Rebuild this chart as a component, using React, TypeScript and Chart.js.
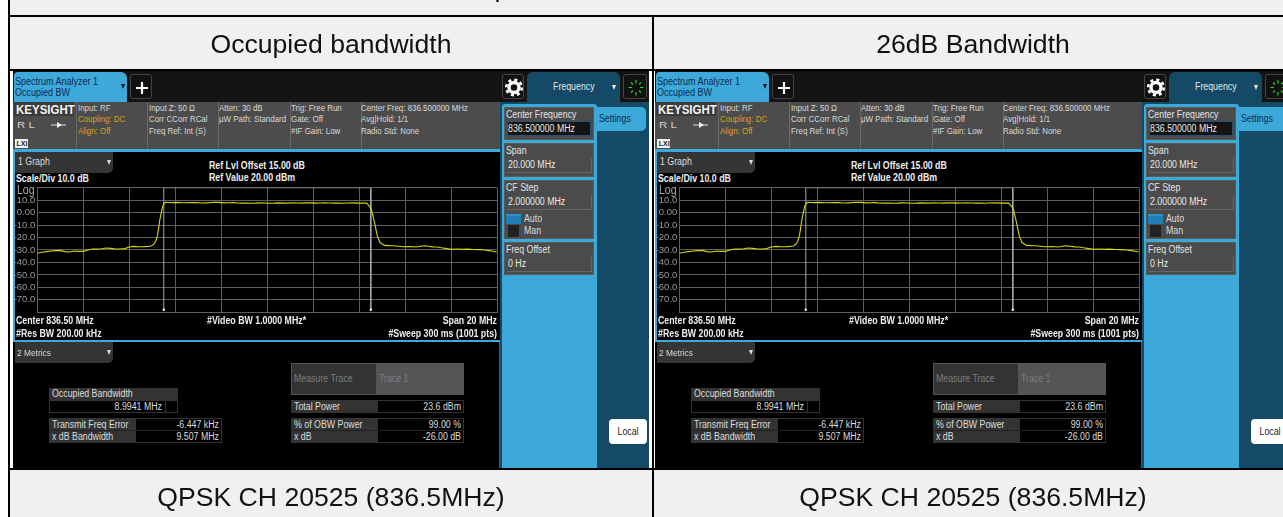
import React, { useEffect, useRef } from "react";
import { Chart, registerables } from "chart.js";
Chart.register(...registerables);

const traceFreq = [826.5,826.7,826.9,827.1,827.3,827.5,827.7,827.9,828.1,828.3,828.5,828.7,828.9,829.1,829.3,829.5,829.7,829.9,830.1,830.3,830.5,830.7,830.9,831.1,831.3,831.45,831.57,831.65,831.72,831.78,831.83,831.89,831.95,832.02,832.09,832.2,832.4,832.6,832.8,833,833.2,833.4,833.6,833.8,834,834.2,834.4,834.6,834.8,835,835.2,835.4,835.6,835.8,836,836.2,836.4,836.6,836.8,837,837.2,837.4,837.6,837.8,838,838.2,838.4,838.6,838.8,839,839.2,839.4,839.6,839.8,840,840.2,840.4,840.6,840.82,840.93,841.03,841.1,841.18,841.28,841.4,841.6,841.8,841.97,842.2,842.4,842.7,842.98,843.15,843.34,843.5,843.7,843.9,844.07,844.3,844.5,844.75,845,845.2,845.45,845.72,845.95,846.15,846.3,846.47];
const traceLevel = [-32.6,-31.8,-31.3,-30.8,-30.5,-30.3,-31.3,-31.6,-30.8,-31.1,-31.1,-30,-29.2,-29.3,-29,-28.4,-28.7,-29.2,-29.2,-28.9,-27.6,-27.1,-27.4,-27.4,-27.1,-26.8,-25.3,-23,-18.7,-12,-5.5,0,5,7.5,8.2,8.1,8,8.2,7.9,7.9,8,8.1,7.7,7.8,8,8.3,8.2,7.8,7.9,8,7.7,7.6,7.7,7.5,7.6,7.8,7.7,7.5,7.6,7.8,7.6,7.6,7.9,7.7,7.6,7.8,7.8,7.6,7.7,7.9,7.7,7.6,7.7,7.5,7.7,7.8,7.6,7.7,7.6,5.5,2.4,-3,-9.5,-18.7,-24,-26.3,-26.5,-26.6,-27,-27.4,-27.2,-27.6,-27,-26.6,-27,-27.5,-27.6,-28.2,-28.9,-29.5,-29.2,-29.5,-29.3,-29.6,-29.7,-30,-30.5,-31,-31.6];
const bracketFreq = [832.0,832.0,841.0,841.0];
const bracketLevel = [-78,20,20,-78];
const gridFreq = [826.5,828.5,830.5,832.5,834.5,836.5,838.5,840.5,842.5,844.5,846.5];
const levelLabels: Record<string,string> = {"10":"10.0","0":"0.00","-10":"-10.0","-20":"-20.0","-30":"-30.0","-40":"-40.0","-50":"-50.0","-60":"-60.0","-70":"-70.0"};

const columnTitles = ["Occupied bandwidth","26dB Bandwidth"];
const rowLabel = "QPSK CH 20525 (836.5MHz)";
const infoRows = [
  [["Input: RF","#d8d8d8"],["Coupling: DC","#d9a21c"],["Align: Off","#d9a21c"]],
  [["Input Z: 50 Ω","#d8d8d8"],["Corr CCorr RCal","#d8d8d8"],["Freq Ref: Int (S)","#d8d8d8"]],
  [["Atten: 30 dB","#d8d8d8"],["µW Path: Standard","#d8d8d8"]],
  [["Trig: Free Run","#d8d8d8"],["Gate: Off","#d8d8d8"],["#IF Gain: Low","#d8d8d8"]],
  [["Center Freq: 836.500000 MHz","#d8d8d8"],["Avg|Hold: 1/1","#d8d8d8"],["Radio Std: None","#d8d8d8"]],
];

const SANS = '"Liberation Sans", Arial, sans-serif';
const CYAN = "#3ca9d9";
const NAVY = "#154a66";
const GRID = "#5f5f5f";

type BoxProps = { x:number; y:number; w:number; h:number; bg?:string; style?:React.CSSProperties; children?:React.ReactNode };
const Box = ({x,y,w,h,bg,style,children}:BoxProps) => (
  <div style={{position:"absolute",left:x,top:y,width:w,height:h,background:bg,...style}}>{children}</div>
);
type TProps = { x:number; y:number; s?:number; c?:string; b?:boolean; right?:boolean; center?:boolean; sx?:number; children:React.ReactNode };
const T = ({x,y,s=10,c="#dcdcdc",b,right,center,sx=0.88,children}:TProps) => (
  <div style={{position:"absolute",left:x,top:y-10,height:20,lineHeight:"20px",fontSize:s,color:c,fontWeight:b?700:400,fontFamily:SANS,whiteSpace:"nowrap",
    transformOrigin:right?"100% 50%":center?"50% 50%":"0 50%",
    transform:`${right?"translateX(-100%) ":center?"translateX(-50%) ":""}scaleX(${sx})`}}>{children}</div>
);

function Plot({x,y,w,h}:{x:number;y:number;w:number;h:number}) {
  const ref = useRef<HTMLCanvasElement>(null);
  useEffect(() => {
    const chart = new Chart(ref.current!, {
      type: "line",
      data: { datasets: [
        { data: traceFreq.map((f,i)=>({x:f,y:traceLevel[i]})), borderColor:"#d6d60a", borderWidth:1.1, pointRadius:0, tension:0, order:1 },
        { data: bracketFreq.map((f,i)=>({x:f,y:bracketLevel[i]})), borderColor:"#a8a8a8", borderWidth:1, pointRadius:[1.2,0,0,1.2], pointBackgroundColor:"#ffffff", pointBorderWidth:0, tension:0, order:2 },
      ]},
      options: {
        animation:false, responsive:false, maintainAspectRatio:false,
        layout:{autoPadding:false,padding:{left:0,right:0.7,top:7.3,bottom:5.7}},
        plugins:{legend:{display:false},tooltip:{enabled:false}},
        scales:{
          x:{type:"linear",min:826.5,max:846.5,afterBuildTicks:(s:any)=>{s.ticks=gridFreq.map((v)=>({value:v}));},ticks:{display:false,autoSkip:false},grid:{color:GRID,lineWidth:1,drawTicks:false},border:{color:GRID}},
          y:{min:-80,max:20,afterFit:(s:any)=>{s.width=22.3;},
            ticks:{stepSize:10,autoSkip:false,padding:2,color:"#9a9a9a",font:{family:SANS,size:9.5},callback:(v:any)=>levelLabels[String(v)]??""},
            grid:{color:GRID,lineWidth:1,drawTicks:false},border:{color:GRID}},
        },
      },
    });
    return () => chart.destroy();
  }, []);
  return <canvas ref={ref} width={w} height={h} style={{position:"absolute",left:x,top:y,width:w,height:h}} />;
}

const Gear = () => (
  <svg width="22" height="25" style={{position:"absolute",left:0,top:0}}>
    <circle cx="11" cy="12.5" r="5" fill="none" stroke="#fff" strokeWidth="3.4"/>
    <circle cx="11" cy="12.5" r="7.8" fill="none" stroke="#fff" strokeWidth="2.6" strokeDasharray="3.1 3.03"/>
  </svg>
);
const Plus = () => (
  <svg width="22" height="25" style={{position:"absolute",left:0,top:0}}>
    <path d="M11 7V19M5 13H17" stroke="#fff" strokeWidth="2.2"/>
  </svg>
);
const Spinner = () => (
  <svg width="24" height="25" style={{position:"absolute",left:0,top:0}}>
    <g stroke="#27d62a" strokeWidth="1.2">
      <path d="M12 5V8.5M12 17V20.5M4.5 12.5H8M16 12.5H19.5M7 7.5L9 9.5M17 7.5L15.2 9.3M7 17.5L9 15.7M17 17.5L15 15.5"/>
    </g>
  </svg>
);
const Tri = ({x,y,c="#ddd"}:{x:number;y:number;c?:string}) => (
  <div style={{position:"absolute",left:x,top:y,width:0,height:0,borderLeft:"2.5px solid transparent",borderRight:"2.5px solid transparent",borderTop:`5px solid ${c}`}} />
);

function Field({y,h,label,value,active,children}:{y:number;h:number;label:string;value:string;active?:boolean;children?:React.ReactNode}) {
  return (
    <Box x={504} y={y} w={90} h={h} bg="#4b4b4b" style={{border:"1px solid #5a5a5a",boxSizing:"border-box"}}>
      {active && <Box x={2} y={13} w={84} h={15} bg="#141414" style={{border:"1px solid #2a5270",boxSizing:"border-box"}} />}
      {!active && <Box x={2} y={14} w={85} h={15} style={{borderBottom:"1px solid #666",borderRight:"1px solid #666",boxSizing:"border-box"}} />}
      <T x={0.5} y={7} s={10} c="#e4e4e4">{label}</T>
      <T x={3} y={21} s={10} c="#e8e8e8">{value}</T>
      {children}
    </Box>
  );
}

function Screen({x}:{x:number}) {
  return (
    <div style={{position:"absolute",left:x,top:0,width:649,height:517,filter:"blur(0.3px)"}}>
      <Box x={13} y={71} w={635.5} h={397} bg="#000" />
      <Box x={13} y={71} w={635.5} h={31} bg="#141414" />
      {/* tab */}
      <Box x={14} y={72} w={113} h={30} bg={CYAN} style={{borderRadius:"4px 6px 0 0"}} />
      <T x={15} y={81.5} s={10} c="#0b2a55" sx={0.9}>Spectrum Analyzer 1</T>
      <T x={15} y={92.5} s={10} c="#0b2a55" sx={0.9}>Occupied BW</T>
      <Tri x={121} y={84} c="#111" />
      <Box x={130} y={74} w={22} h={25} bg="#111" style={{border:"1px solid #444",borderRadius:3,boxSizing:"border-box"}}><Plus/></Box>
      {/* info bar */}
      <Box x={13} y={102} w={487} h={47} bg="#4c4c4c" />
      <Box x={14} y={102} w={60} h={14} bg="#3a3a3a" />
      <T x={15.5} y={109.5} s={12.5} b c="#f4f4f4" sx={0.92}>KEYSIGHT</T>
      <T x={17} y={124.5} s={9.5} c="#d0d0d0" sx={1.2}>R L</T>
      <svg width="16" height="8" style={{position:"absolute",left:51,top:121}}><path d="M0 4H15" stroke="#ddd" strokeWidth="1"/><path d="M6 1L11 4L6 7Z" fill="#eee"/></svg>
      <Box x={15} y={139} w={13} h={9} bg="#f2f2f2"><T x={1.5} y={4.5} s={7} b c="#222" sx={1}>LXI</T></Box>
      {[76,147,218,289.5,360.5].map((lx)=><Box key={lx} x={lx} y={102} w={1} h={47} bg="#6a6a6a"/>)}
      {infoRows.map((rows,i)=>rows.map((r,j)=>(
        <T key={i+"-"+j} x={[78,149,219,291,361][i]} y={108+j*11.3} s={9} c={r[1]}>{r[0]}</T>
      )))}
      <Box x={13} y={149} w={487} h={2.5} bg={CYAN} />
      <Box x={13} y={150} w={2} h={192} bg={CYAN} />
      {/* graph */}
      <Box x={15} y={152} w={98} h={21} bg="#353535" style={{borderRadius:"0 0 5px 0"}} />
      <T x={17.5} y={162} s={10} c="#dcdcdc">1 Graph</T>
      <Tri x={107} y={160} />
      <T x={209} y={166} s={10} b c="#efefef">Ref Lvl Offset 15.00 dB</T>
      <T x={209} y={178} s={10} b c="#efefef">Ref Value 20.00 dBm</T>
      <T x={16} y={178.5} s={10} b c="#efefef">Scale/Div 10.0 dB</T>
      <Plot x={15} y={180} w={483} h={140} />
      <T x={17} y={190} s={12} c="#a8a8a8">Log</T>
      <T x={15.5} y={321} s={10} b c="#efefef">Center 836.50 MHz</T>
      <T x={207} y={321} s={10} b c="#efefef">#Video BW 1.0000 MHz*</T>
      <T x={497} y={321} s={10} b right c="#efefef">Span 20 MHz</T>
      <T x={15.5} y={333.5} s={10} b c="#efefef">#Res BW 200.00 kHz</T>
      <T x={497} y={333.5} s={10} b right c="#efefef">#Sweep 300 ms (1001 pts)</T>
      <Box x={13} y={340} w={487} h={2} bg={CYAN} />
      {/* metrics */}
      <Box x={15} y={342} w={98} h={21} bg="#353535" style={{borderRadius:"0 0 5px 0"}} />
      <T x={17} y={352.5} s={9.5} c="#dcdcdc">2 Metrics</T>
      <Tri x={107} y={350} />
      <Box x={49} y={388} w={129} h={12} bg="#333" />
      <Box x={49} y={400} w={129} h={13} style={{border:"1px solid #333",boxSizing:"border-box"}} />
      <Box x={165} y={400} w={1} h={13} bg="#333" />
      <T x={52} y={394}>Occupied Bandwidth</T>
      <T x={162} y={406.5} right>8.9941 MHz</T>
      <Box x={49} y={418} w={173} h={25} style={{border:"1px solid #333",boxSizing:"border-box"}} />
      <Box x={49} y={418} w={87} h={25} bg="#333" />
      <Box x={49} y={430} w={173} h={1} bg="#222" />
      <T x={52} y={424.5}>Transmit Freq Error</T>
      <T x={52} y={437}>x dB Bandwidth</T>
      <T x={219} y={424.5} right>-6.447 kHz</T>
      <T x={219} y={437} right>9.507 MHz</T>
      <Box x={291} y={363} w={173} h={32} bg="#333" style={{border:"1px solid #555",boxSizing:"border-box"}} />
      <Box x={376} y={364} w={87} h={30} bg="#555" />
      <T x={294} y={379} c="#7c7c7c">Measure Trace</T>
      <T x={379} y={379} c="#7c7c7c">Trace 1</T>
      <Box x={291} y={400} w={173} h={13} style={{border:"1px solid #333",boxSizing:"border-box"}} />
      <Box x={291} y={400} w={87} h={13} bg="#333" />
      <T x={294} y={406.5}>Total Power</T>
      <T x={461} y={406.5} right>23.6 dBm</T>
      <Box x={291} y={418} w={173} h={25} style={{border:"1px solid #333",boxSizing:"border-box"}} />
      <Box x={291} y={418} w={87} h={25} bg="#333" />
      <Box x={291} y={430} w={173} h={1} bg="#222" />
      <T x={294} y={424.5}>% of OBW Power</T>
      <T x={294} y={437}>x dB</T>
      <T x={461} y={424.5} right>99.00 %</T>
      <T x={461} y={437} right>-26.00 dB</T>
      <Box x={499} y={342} w={2} h={126} bg="#555" />
      {/* side */}
      <Box x={500} y={101} w={148.5} h={367} bg={NAVY} />
      <Box x={500} y={71} w={148.5} h={31} bg="#141414" />
      <Box x={502} y={74} w={22} h={25} bg="#111" style={{border:"1px solid #444",borderRadius:3,boxSizing:"border-box"}}><Gear/></Box>
      <Box x={527} y={72} w={93} h={30} bg={NAVY} style={{borderRadius:"6px 6px 0 0"}} />
      <T x={553} y={87} s={10} c="#dfe8ee">Frequency</T>
      <Tri x={612} y={84.5} c="#eee" />
      <Box x={623} y={74} w={24} h={25} bg="#111" style={{border:"1px solid #444",borderRadius:3,boxSizing:"border-box"}}><Spinner/></Box>
      <Box x={502} y={104} w={95} h={364} bg={CYAN} style={{borderRadius:"3px 3px 0 0"}} />
      <Box x={596} y={107} w={50} h={24} bg={CYAN} style={{borderRadius:"0 5px 5px 0"}} />
      <T x={599} y={118.5} s={10} c="#0b2a55">Settings</T>
      <Field y={107} h={33} label="Center Frequency" value="836.500000 MHz" active/>
      <Field y={143} h={34} label="Span" value="20.000 MHz"/>
      <Field y={180} h={59} label="CF Step" value="2.000000 MHz">
        <Box x={0.5} y={33} w={15} h={10} bg="#1d7fb3" style={{borderTop:"2px solid #2a93c9",boxSizing:"border-box"}}/>
        <Box x={2.5} y={44} w={11} h={12} bg="#222"/>
        <T x={19} y={38} s={10}>Auto</T>
        <T x={19} y={49.5} s={10}>Man</T>
      </Field>
      <Field y={242} h={33} label="Freq Offset" value="0 Hz"/>
      <Box x={609} y={419} w={38} h={25} bg="#fff" style={{borderRadius:4}}>
        <T x={19} y={12.5} s={10} c="#222" center>Local</T>
      </Box>
    </div>
  );
}

function Labels() {
  const cells = [[331,0],[973,1]];
  return <>
    <T x={494.5} y={-12} s={26.6} c="#111" sx={1}>p</T>
    {cells.map(([cx,i])=><T key={"c"+i} x={cx} y={44} s={26.6} c="#111" center sx={1}>{columnTitles[i]}</T>)}
    {cells.map(([cx,i])=><T key={"r"+i} x={cx} y={497} s={26.6} c="#111" center sx={1}>{rowLabel}</T>)}
  </>;
}

export default function App() {
  useEffect(()=>{ document.body.style.margin="0"; document.body.style.overflow="hidden"; },[]);
  return (
    <div style={{position:"relative",width:1283,height:517,overflow:"hidden",background:"#fff"}}>
      <Box x={8} y={0} w={1275} h={517} bg="#f0f0f0" />
      <Box x={10} y={70} w={641.5} h={398} bg="#fff" />
      <Box x={653} y={70} w={630} h={398} bg="#fff" />
      <Screen x={0}/>
      <Screen x={642.3}/>
      <Box x={8} y={0} w={2} h={517} bg="#000" />
      <Box x={8} y={15} w={1275} h={2} bg="#000" />
      <Box x={8} y={69} w={1275} h={2} bg="#000" />
      <Box x={8} y={467.5} w={1275} h={2} bg="#000" />
      <Box x={651.5} y={15} w={2} h={502} bg="#000" />
      <Labels/>
    </div>
  );
}
